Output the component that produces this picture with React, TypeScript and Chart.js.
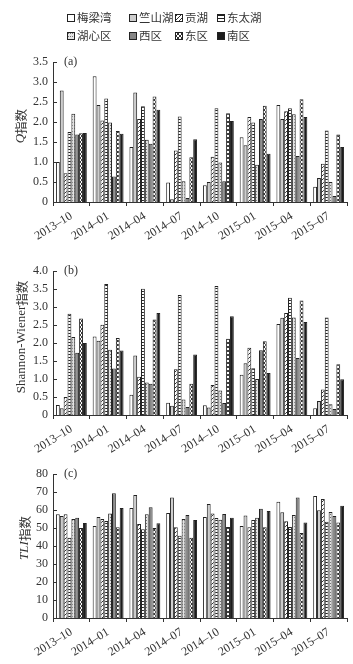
import React, { useEffect, useRef } from 'react';
import { Chart, registerables } from 'chart.js';
Chart.register(...registerables);

const categories = ['2013–10', '2014–01', '2014–04', '2014–07', '2014–10', '2015–01', '2015–04', '2015–07'];
const seriesNames = ['梅梁湾', '竺山湖', '贡湖', '东太湖', '湖心区', '西区', '东区', '南区'];

// (a) Q index
const qMeiliang = [1.0, 3.15, 1.38, 0.49, 0.42, 1.62, 2.43, 0.38];
const qZhushan = [2.79, 2.43, 2.74, 0.07, 0.5, 1.42, 2.08, 0.6];
const qGonghu = [0.72, 2.04, 2.08, 1.29, 1.13, 2.13, 2.27, 0.96];
const qDongtai = [1.75, 2.59, 2.4, 2.14, 2.35, 1.99, 2.35, 1.79];
const qHuxin = [2.21, 1.99, 1.56, 0.52, 0.99, 0.93, 2.2, 0.5];
const qXi = [1.69, 0.64, 1.46, 0.1, 0.52, 2.08, 1.15, 0.15];
const qDong = [1.72, 1.78, 2.64, 1.12, 2.22, 2.41, 2.57, 1.69];
const qNan = [1.73, 1.71, 2.31, 1.57, 2.03, 1.21, 2.13, 1.38];

// (b) Shannon-Wiener index
const hMeiliang = [0.28, 2.18, 0.56, 0.34, 0.27, 1.12, 2.53, 0.19];
const hZhushan = [0.19, 2.06, 1.65, 0.26, 0.21, 1.44, 2.7, 0.39];
const hGonghu = [0.5, 2.51, 1.06, 1.27, 0.83, 1.87, 2.83, 0.71];
const hDongtai = [2.81, 3.64, 3.51, 3.33, 3.58, 1.3, 3.26, 2.71];
const hHuxin = [2.17, 1.81, 0.9, 0.43, 0.68, 1.0, 2.71, 0.3];
const hXi = [1.73, 1.29, 0.87, 0.22, 0.33, 1.8, 1.58, 0.17];
const hDong = [2.68, 2.14, 2.65, 0.87, 2.12, 2.05, 3.18, 1.41];
const hNan = [2.0, 1.79, 2.83, 1.68, 2.74, 1.17, 2.58, 0.99];

// (c) TLI index
const tMeiliang = [57.6, 51.1, 61.1, 58.3, 56.1, 51.1, 64.6, 67.8];
const tZhushan = [56.7, 56.1, 68.3, 66.9, 63.3, 56.9, 58.7, 59.8];
const tGonghu = [57.6, 55.0, 52.2, 50.4, 58.0, 50.4, 53.7, 66.1];
const tDongtai = [44.6, 53.9, 49.3, 45.7, 55.6, 54.4, 50.6, 53.5];
const tHuxin = [55.0, 58.1, 57.6, 55.0, 54.6, 55.7, 57.2, 58.9];
const tXi = [55.7, 69.3, 61.5, 57.2, 57.8, 60.7, 66.9, 56.7];
const tDong = [50.0, 50.4, 50.0, 44.6, 50.6, 50.4, 47.2, 53.0];
const tNan = [52.8, 61.1, 52.6, 54.4, 55.7, 59.4, 53.0, 62.4];

const fillKinds = ['white', 'light', 'diag', 'hlines', 'dots', 'gray', 'cross', 'black'];

function makeFill(kind: string): any {
  const c = document.createElement('canvas');
  const ctx = c.getContext('2d')!;
  if (kind === 'white') return '#ffffff';
  if (kind === 'light') return '#cdcdcd';
  if (kind === 'gray') return '#858585';
  if (kind === 'black') return '#1c1c1c';
  if (kind === 'diag') {
    c.width = 4; c.height = 4;
    ctx.fillStyle = '#fff'; ctx.fillRect(0, 0, 4, 4);
    ctx.fillStyle = '#333';
    for (let i = 0; i < 4; i++) ctx.fillRect(i, 3 - i, 1, 1);
  } else if (kind === 'hlines') {
    c.width = 4; c.height = 3;
    ctx.fillStyle = '#fff'; ctx.fillRect(0, 0, 4, 3);
    ctx.fillStyle = '#222'; ctx.fillRect(0, 0, 4, 1);
  } else if (kind === 'dots') {
    c.width = 2; c.height = 3;
    ctx.fillStyle = '#e4e4e4'; ctx.fillRect(0, 0, 2, 3);
    ctx.fillStyle = '#777'; ctx.fillRect(0, 0, 1, 1);
  } else if (kind === 'cross') {
    c.width = 4; c.height = 4;
    ctx.fillStyle = '#fff'; ctx.fillRect(0, 0, 4, 4);
    ctx.fillStyle = '#333';
    for (let i = 0; i < 4; i++) { ctx.fillRect(i, i, 1, 1); ctx.fillRect(i, 3 - i, 1, 1); }
  }
  const p = ctx.createPattern(c, 'repeat');
  return p;
}

const decor = {
  id: 'decor',
  afterDraw(chart: any, _args: any, opts: any) {
    const { ctx, chartArea } = chart;
    const y = chart.scales.y;
    ctx.save();
    ctx.strokeStyle = '#333';
    ctx.lineWidth = 1;
    y.ticks.forEach((t: any) => {
      const py = Math.round(y.getPixelForValue(t.value)) + 0.5;
      ctx.beginPath();
      ctx.moveTo(chartArea.left, py);
      ctx.lineTo(chartArea.left + 4, py);
      ctx.stroke();
    });
    ctx.fillStyle = '#333';
    ctx.textBaseline = 'middle';
    ctx.textAlign = 'left';
    ctx.font = '12px "Liberation Serif"';
    ctx.fillText(opts.label, chartArea.left + 11, chartArea.top);
    // y title
    const parts: { text: string; font: string }[] = opts.title;
    let total = 0;
    const widths = parts.map((p) => { ctx.font = p.font; const w = ctx.measureText(p.text).width; total += w; return w; });
    ctx.translate(opts.titleX, (chartArea.top + chartArea.bottom) / 2 + opts.titleDy);
    ctx.rotate(-Math.PI / 2);
    let x = -total / 2;
    parts.forEach((p, i) => { ctx.font = p.font; ctx.fillText(p.text, x, 0); x += widths[i]; });
    ctx.restore();
  },
};

const serifFont = { family: '"Liberation Serif", "Times New Roman", serif', size: 12 };
const cjk = '12.5px "Noto Sans CJK SC"';

function Panel(props: { top: number; height: number; padTop: number; xHeight: number; max: number; step: number; series: number[][]; label: string; title: { text: string; font: string }[]; titleDy: number; titleX: number; }) {
  const ref = useRef<HTMLCanvasElement>(null);
  useEffect(() => {
    const datasets = props.series.map((d, i) => ({
      label: seriesNames[i],
      data: d,
      backgroundColor: makeFill(fillKinds[i]),
      borderColor: '#222',
      borderWidth: 1,
      categoryPercentage: 0.84,
      barPercentage: 1.0,
    }));
    const chart = new Chart(ref.current!, {
      type: 'bar',
      data: { labels: categories, datasets },
      plugins: [decor],
      options: {
        responsive: false,
        animation: false,
        layout: { padding: { top: props.padTop, right: 6, left: 0, bottom: 0 } },
        plugins: {
          legend: { display: false },
          tooltip: { enabled: false },
          decor: { label: props.label, title: props.title, titleX: props.titleX, titleDy: props.titleDy },
        } as any,
        scales: {
          x: {
            offset: true,
            grid: { offset: true, drawOnChartArea: false, drawTicks: true, tickLength: 4, color: '#333', lineWidth: 1 },
            border: { display: true, color: '#333', width: 1 },
            ticks: { font: serifFont, color: '#333', minRotation: 32, maxRotation: 32, autoSkip: false, padding: 3 },
            afterFit: (s: any) => { s.height = props.xHeight; },
          },
          y: {
            min: 0,
            max: props.max,
            grid: { display: false, drawTicks: false },
            border: { display: true, color: '#333', width: 1 },
            ticks: {
              stepSize: props.step,
              font: serifFont,
              color: '#333',
              padding: 5,
              callback: (v: any) => (v === 0 ? '0' : props.step < 1 ? Number(v).toFixed(1) : String(v)),
            },
            afterFit: (s: any) => { s.width = 53; },
          },
        } as any,
      },
    });
    return () => chart.destroy();
  }, []);
  return (
    <canvas
      ref={ref}
      width={353}
      height={props.height}
      style={{ position: 'absolute', left: 0, top: props.top, width: 353, height: props.height }}
    />
  );
}

const legendCols = [67, 129, 175, 217];
const legendRows = [17.5, 35.5];

function Legend() {
  const ref = useRef<HTMLCanvasElement>(null);
  useEffect(() => {
    const ctx = ref.current!.getContext('2d')!;
    ctx.clearRect(0, 0, 353, 48);
    seriesNames.forEach((n, i) => {
      const x = legendCols[i % 4];
      const y = legendRows[Math.floor(i / 4)];
      const bx = x, by = Math.round(y - 4);
      ctx.fillStyle = makeFill(fillKinds[i]);
      ctx.fillRect(bx, by, 8, 8);
      ctx.strokeStyle = '#222';
      ctx.lineWidth = 1;
      ctx.strokeRect(bx + 0.5, by + 0.5, 7, 7);
      ctx.fillStyle = '#333';
      ctx.font = '11.5px "Noto Sans CJK SC"';
      ctx.textBaseline = 'middle';
      ctx.textAlign = 'left';
      ctx.fillText(n, bx + 10, y + 0.5);
    });
  }, []);
  return <canvas ref={ref} width={353} height={48} style={{ position: 'absolute', left: 0, top: 0, width: 353, height: 48 }} />;
}

export default function App() {
  return (
    <div style={{ position: 'absolute', left: 0, top: 0, width: 353, height: 664, background: '#fff', overflow: 'hidden' }}>
      <Legend />
      <Panel top={50} height={200} padTop={10} xHeight={48} max={3.5} step={0.5}
        series={[qMeiliang, qZhushan, qGonghu, qDongtai, qHuxin, qXi, qDong, qNan]}
        label="(a)" titleX={21} titleDy={-6}
        title={[{ text: 'Q', font: 'italic 13px "Liberation Serif"' }, { text: '指数', font: cjk }]} />
      <Panel top={255} height={205} padTop={16} xHeight={45} max={4} step={0.5}
        series={[hMeiliang, hZhushan, hGonghu, hDongtai, hHuxin, hXi, hDong, hNan]}
        label="(b)" titleX={22} titleDy={-6}
        title={[{ text: 'Shannon-Wiener', font: '13px "Liberation Serif"' }, { text: '指数', font: cjk }]} />
      <Panel top={460} height={204} padTop={14} xHeight={46} max={80} step={10}
        series={[tMeiliang, tZhushan, tGonghu, tDongtai, tHuxin, tXi, tDong, tNan]}
        label="(c)" titleX={25} titleDy={-8}
        title={[{ text: 'TLI', font: 'italic 13px "Liberation Serif"' }, { text: '指数', font: cjk }]} />
    </div>
  );
}
